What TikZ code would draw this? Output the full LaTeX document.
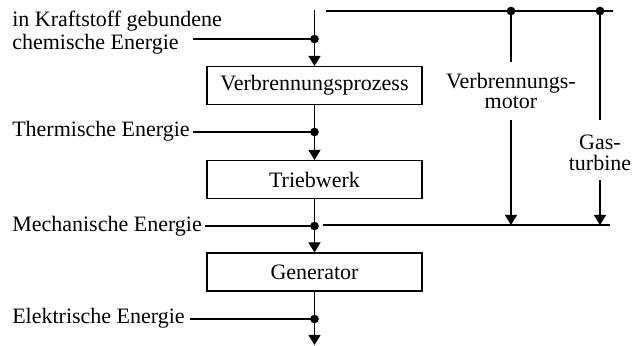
\documentclass[tikz,border=0pt]{standalone}
\usepackage{fontspec}
\setmainfont{Liberation Serif}
\usetikzlibrary{arrows.meta,calc}
\begin{document}
\begin{tikzpicture}[x=0.75pt,y=-0.75pt,
  every node/.style={font=\fontsize{16.5}{17.5}\selectfont},
  line/.style={line width=0.8pt},
  arr/.style={line width=0.8pt,-{Triangle[width=9pt,length=7.5pt]}},
  dot/.style={circle,fill=black,inner sep=0pt,minimum size=6.5pt},
  procbox/.style={draw,line width=0.8pt,minimum width=161.25pt,minimum height=28.5pt,inner sep=0pt},
  lab/.style={inner sep=0pt,anchor=base west,align=left},
  sidelab/.style={inner sep=0pt,align=center,font=\fontsize{16.5}{15.5}\selectfont}]
\useasboundingbox (0,0) rectangle (637,346);

% process boxes
\node[procbox] (b1) at (314.5,85.5) {Verbrennungsprozess};
\node[procbox] (b2) at (314.5,179.5) {Triebwerk};
\node[procbox] (b3) at (314.5,272) {Generator};

% junction dots on main line
\node[dot] (d1) at (314.5,39) {};
\node[dot] (d2) at (314.5,132) {};
\node[dot] (d3) at (314.5,226) {};
\node[dot] (d4) at (314.5,319) {};
\coordinate (top) at (314.5,10);
\coordinate (bot) at (314.5,345);

% left labels
\node[lab] (l1) at (12,27) {in Kraftstoff gebundene};
\node[lab] (l1b) at (12,50) {chemische Energie};
\node[lab] (l2) at (12,137) {Thermische Energie};
\node[lab] (l3) at (12,232) {Mechanische Energie};
\node[lab] (l4) at (12,324) {Elektrische Energie};
\coordinate (s1) at (193,39);

% main chain
\draw[line] (top) -- (d1.center);
\draw[arr] (d1.center) -- (b1.north);
\draw[line] (b1.south) -- (d2.center);
\draw[arr] (d2.center) -- (b2.north);
\draw[line] (b2.south) -- (d3.center);
\draw[arr] (d3.center) -- (b3.north);
\draw[line] (b3.south) -- (d4.center);
\draw[arr] (d4.center) -- (bot);

% input lines from labels
\draw[line] (s1) -- (d1.center);
\draw[line] ([xshift=2.25pt]d2.center -| l2.east) -- (d2.center);
\draw[line] ([xshift=2.25pt]d3.center -| l3.east) -- (d3.center);
\draw[line] ([xshift=3.5pt]d4.center -| l4.east) -- (d4.center);

% right bypass
\coordinate (t0) at (326,11);
\coordinate (t1) at (613,11);
\node[dot] (dm) at (511,11) {};
\node[dot] (dg) at (600,11) {};
\draw[line] (t0) -- (t1);
\coordinate (u0) at (323,225);
\coordinate (u1) at (610,225);
\draw[line] (u0) -- (u1);
\coordinate (em) at (511,225);
\coordinate (eg) at (600,225);

\node[sidelab] (vm) at (511,91) {Verbrennungs-\\motor};
\node[sidelab] (gt) at (600,153) {Gas-\\turbine};
\coordinate (vm1) at (511,62);
\coordinate (vm2) at (511,120);
\coordinate (gt1) at (600,120);
\coordinate (gt2) at (600,180);

\draw[line] (dm.center) -- (vm1);
\draw[arr] (vm2) -- (em);
\draw[line] (dg.center) -- (gt1);
\draw[arr] (gt2) -- (eg);
\end{tikzpicture}
\end{document}
